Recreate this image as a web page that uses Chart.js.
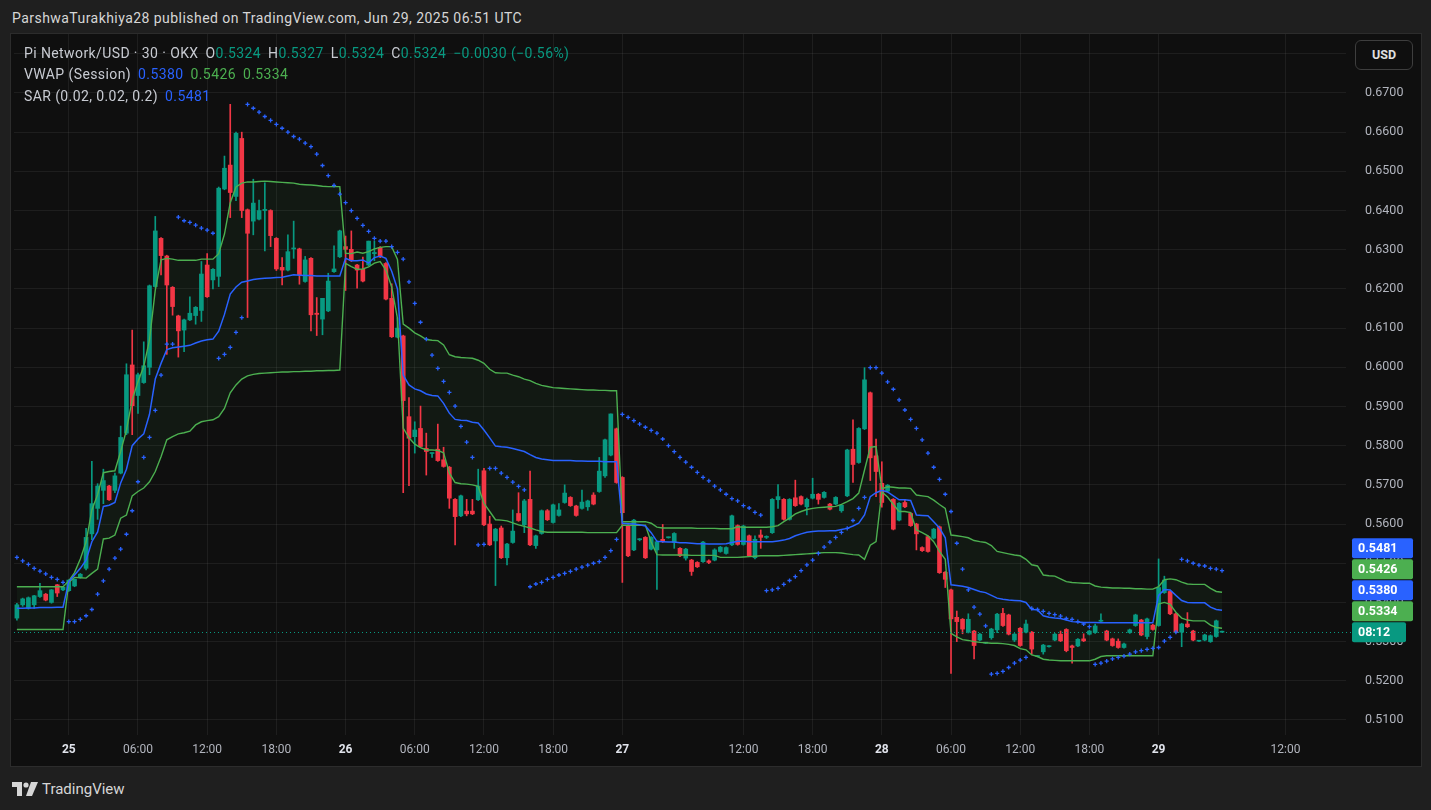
<!DOCTYPE html>
<html>
<head>
<meta charset="utf-8">
<script src="https://cdn.jsdelivr.net/npm/chart.js@4.4.1/dist/chart.umd.min.js"></script>
<style>
  html, body { margin: 0; padding: 0; background: #1f1f1f; width: 1431px; height: 810px; overflow: hidden; font-family: Roboto, "Liberation Sans", sans-serif; }
  #title { position: absolute; left: 12px; top: 10px; color: #d6d6d6; font-size: 14px; letter-spacing: 0.45px; }
  #frame { position: absolute; left: 10px; top: 33px; width: 1410px; height: 732px; border: 1px solid #2c2c2c; background: #0f0f0f; }
  #chart { position: absolute; left: 0; top: 0; }
  .legend { position: absolute; left: 13px; color: #c8cbd2; font-size: 14px; letter-spacing: 0.4px; white-space: nowrap; }
  .legend span { margin-right: 7px; }
  .legend i { font-style: normal; }
  .t { color: #089981; }
  .b { color: #2962ff; }
  .g { color: #4caf50; }
  #usd { position: absolute; left: 1344px; top: 6px; width: 56px; height: 28px; border: 1px solid #3e3e3e; border-radius: 6px; color: #e0e0e0; font-size: 12.5px; font-weight: bold; text-align: center; line-height: 28px; background: #0f0f0f; }
  #foot { position: absolute; left: 12px; top: 780px; color: #d6d6d6; font-size: 15px; display: flex; align-items: center; gap: 4px; }
</style>
</head>
<body>
<div id="title">ParshwaTurakhiya28 published on TradingView.com, Jun 29, 2025 06:51 UTC</div>
<div id="frame">
  <canvas id="chart" width="1410" height="732"></canvas>
  <div class="legend" style="top:11px"><span>Pi Network/USD · 30 · OKX</span><span>O<i class="t">0.5324</i></span><span>H<i class="t">0.5327</i></span><span>L<i class="t">0.5324</i></span><span>C<i class="t">0.5324</i></span><span class="t">−0.0030 (−0.56%)</span></div>
  <div class="legend" style="top:32px"><span>VWAP (Session)</span><span class="b">0.5380</span><span class="g">0.5426</span><span class="g">0.5334</span></div>
  <div class="legend" style="top:54px"><span>SAR (0.02, 0.02, 0.2)</span><span class="b">0.5481</span></div>
  <div id="usd">USD</div>
</div>
<div id="foot">
  <svg width="26" height="15" viewBox="0 0 26 15"><path d="M0 0H10V14H5V5H0Z" fill="#d6d6d6"/><circle cx="14" cy="3" r="2.6" fill="#d6d6d6"/><path d="M19 0H26L20 14H14Z" fill="#d6d6d6"/></svg>
  <span>TradingView</span>
</div>
<script>
// Pi Network/USD 30m candles, OKX, 24 Jun 19:30 -> 29 Jun
const open = [
  .5360,.5394,.5385,.5394,.5415,.5421,.5400,.5445,.5432,.5430,
  .5442,.5464,.5487,.5575,.5640,.5686,.5697,.5686,.5730,.5832,
  .6006,.5928,.5961,.6000,.6206,.6329,.6284,.6204,.6131,.6095,
  .6121,.6132,.6145,.6261,.6223,.6232,.6455,.6516,.6436,.6584,
  .6402,.6373,.6378,.6400,.6400,.6329,.6255,.6248,.6302,.6302,
  .6219,.6278,.6138,.6123,.6144,.6244,.6282,.6308,.6301,.6261,
  .6250,.6261,.6290,.6306,.6265,.6176,.6077,.6080,.5874,.5823,
  .5844,.5793,.5780,.5791,.5764,.5745,.5663,.5621,.5633,.5633,
  .5662,.5736,.5600,.5557,.5590,.5514,.5553,.5627,.5598,.5663,
  .5545,.5576,.5634,.5604,.5622,.5655,.5668,.5646,.5640,.5644,
  .5674,.5683,.5723,.5776,.5843,.5719,.5596,.5534,.5560,.5566,
  .5536,.5534,.5561,.5565,.5553,.5538,.5513,.5508,.5502,.5504,
  .5506,.5508,.5530,.5525,.5547,.5596,.5548,.5570,.5514,.5572,
  .5566,.5578,.5662,.5663,.5612,.5667,.5670,.5644,.5666,.5676,
  .5668,.5651,.5651,.5634,.5672,.5791,.5757,.5843,.5935,.5774,
  .5704,.5684,.5663,.5610,.5655,.5627,.5600,.5540,.5568,.5564,
  .5593,.5477,.5432,.5362,.5357,.5324,.5327,.5304,.5296,.5310,
  .5330,.5372,.5368,.5304,.5334,.5324,.5324,.5262,.5274,.5287,
  .5304,.5319,.5331,.5289,.5289,.5307,.5319,.5323,.5352,.5327,
  .5307,.5301,.5285,.5323,.5341,.5355,.5313,.5342,.5341,.5425,
  .5428,.5371,.5324,.5345,.5327,.5301,.5304,.5300,.5313,.5324
];
const high = [
  .5398,.5411,.5414,.5418,.5449,.5423,.5433,.5446,.5441,.5458,
  .5460,.5474,.5589,.5760,.5703,.5740,.5699,.5730,.5850,.6009,
  .6095,.5985,.6065,.6210,.6385,.6331,.6286,.6206,.6133,.6123,
  .6180,.6155,.6270,.6290,.6252,.6460,.6539,.6671,.6600,.6600,
  .6404,.6480,.6427,.6471,.6402,.6331,.6280,.6338,.6373,.6304,
  .6283,.6280,.6178,.6176,.6240,.6310,.6350,.6335,.6348,.6263,
  .6281,.6322,.6322,.6308,.6267,.6213,.6126,.6082,.5923,.5861,
  .5901,.5832,.5781,.5855,.5796,.5747,.5665,.5674,.5663,.5663,
  .5740,.5742,.5620,.5589,.5595,.5551,.5636,.5680,.5663,.5735,
  .5572,.5636,.5637,.5651,.5652,.5700,.5670,.5648,.5687,.5661,
  .5680,.5770,.5817,.5881,.5845,.5721,.5598,.5612,.5563,.5568,
  .5568,.5557,.5599,.5567,.5578,.5540,.5538,.5510,.5504,.5556,
  .5509,.5537,.5543,.5542,.5623,.5598,.5597,.5572,.5570,.5585,
  .5570,.5665,.5701,.5665,.5665,.5712,.5672,.5666,.5717,.5678,
  .5683,.5653,.5670,.5650,.5791,.5866,.5846,.5999,.5937,.5817,
  .5759,.5701,.5665,.5655,.5663,.5629,.5602,.5542,.5570,.5589,
  .5595,.5479,.5434,.5378,.5359,.5371,.5329,.5321,.5298,.5334,
  .5372,.5385,.5370,.5321,.5336,.5355,.5326,.5264,.5293,.5290,
  .5321,.5327,.5333,.5291,.5308,.5320,.5329,.5345,.5371,.5329,
  .5309,.5307,.5296,.5332,.5370,.5357,.5360,.5344,.5511,.5467,
  .5430,.5373,.5347,.5374,.5329,.5303,.5319,.5317,.5355,.5327
];
const low = [
  .5355,.5390,.5383,.5385,.5413,.5404,.5398,.5415,.5430,.5428,
  .5440,.5462,.5483,.5560,.5612,.5652,.5660,.5680,.5728,.5828,
  .5828,.5882,.5959,.5981,.6204,.6236,.6033,.6133,.6026,.6040,
  .6119,.6110,.6117,.6178,.6200,.6206,.6453,.6382,.6425,.6382,
  .6127,.6338,.6376,.6297,.6308,.6247,.6210,.6246,.6278,.6212,
  .6217,.6093,.6081,.6083,.6142,.6242,.6280,.6196,.6270,.6202,
  .6218,.6259,.6272,.6280,.6172,.6076,.6075,.5680,.5698,.5781,
  .5796,.5725,.5770,.5760,.5745,.5640,.5547,.5619,.5621,.5624,
  .5660,.5596,.5545,.5443,.5512,.5496,.5551,.5607,.5578,.5545,
  .5538,.5574,.5609,.5602,.5620,.5653,.5645,.5620,.5638,.5635,
  .5649,.5681,.5719,.5774,.5704,.5451,.5517,.5532,.5557,.5512,
  .5534,.5433,.5553,.5564,.5538,.5517,.5508,.5469,.5489,.5502,
  .5499,.5506,.5528,.5523,.5545,.5546,.5546,.5517,.5511,.5538,
  .5563,.5576,.5640,.5610,.5610,.5645,.5649,.5623,.5664,.5651,
  .5666,.5636,.5649,.5630,.5670,.5706,.5755,.5841,.5711,.5670,
  .5643,.5682,.5585,.5608,.5642,.5594,.5534,.5530,.5528,.5562,
  .5474,.5438,.5219,.5300,.5320,.5322,.5256,.5302,.5295,.5306,
  .5323,.5339,.5317,.5300,.5288,.5322,.5268,.5261,.5268,.5286,
  .5302,.5300,.5274,.5245,.5287,.5300,.5317,.5321,.5350,.5302,
  .5288,.5283,.5283,.5321,.5339,.5315,.5307,.5329,.5339,.5423,
  .5369,.5322,.5287,.5336,.5302,.5300,.5302,.5298,.5311,.5324
];
const close = [
  .5394,.5409,.5412,.5417,.5430,.5406,.5432,.5424,.5439,.5457,
  .5459,.5472,.5566,.5652,.5697,.5711,.5662,.5723,.5821,.5981,
  .5902,.5981,.6004,.6208,.6348,.6285,.6210,.6155,.6093,.6121,
  .6138,.6153,.6238,.6180,.6250,.6457,.6508,.6446,.6597,.6400,
  .6342,.6419,.6400,.6403,.6336,.6251,.6248,.6295,.6304,.6236,
  .6274,.6134,.6135,.6176,.6220,.6251,.6348,.6301,.6272,.6248,
  .6220,.6322,.6293,.6282,.6174,.6078,.6100,.5915,.5819,.5840,
  .5798,.5785,.5781,.5762,.5747,.5666,.5619,.5672,.5626,.5626,
  .5697,.5598,.5547,.5587,.5514,.5549,.5582,.5609,.5659,.5547,
  .5570,.5634,.5611,.5649,.5636,.5679,.5647,.5622,.5656,.5659,
  .5651,.5735,.5815,.5881,.5706,.5629,.5519,.5610,.5561,.5514,
  .5566,.5555,.5555,.5566,.5576,.5519,.5536,.5479,.5491,.5554,
  .5502,.5534,.5541,.5540,.5621,.5548,.5595,.5519,.5561,.5566,
  .5568,.5663,.5670,.5612,.5663,.5647,.5651,.5663,.5676,.5663,
  .5681,.5638,.5668,.5648,.5789,.5752,.5844,.5968,.5769,.5734,
  .5655,.5699,.5587,.5653,.5644,.5596,.5575,.5532,.5530,.5587,
  .5476,.5459,.5358,.5351,.5332,.5357,.5290,.5319,.5297,.5332,
  .5370,.5341,.5319,.5319,.5290,.5345,.5281,.5263,.5291,.5289,
  .5319,.5302,.5277,.5285,.5306,.5302,.5327,.5340,.5354,.5304,
  .5290,.5285,.5294,.5330,.5368,.5317,.5358,.5331,.5438,.5457,
  .5371,.5324,.5345,.5338,.5304,.5302,.5317,.5315,.5353,.5324
];
// VWAP (Session) and its upper / lower bands
const vwap = [
  .5385,.5385,.5386,.5386,.5387,.5387,.5387,.5388,.5388,.5453,
  .5470,.5487,.5508,.5555,.5580,.5645,.5648,.5655,.5705,.5740,
  .5800,.5817,.5830,.5880,.5970,.6010,.6045,.6050,.6052,.6054,
  .6056,.6062,.6067,.6070,.6072,.6092,.6135,.6187,.6205,.6217,
  .6220,.6224,.6226,.6227,.6228,.6229,.6230,.6233,.6236,.6235,
  .6234,.6234,.6233,.6233,.6233,.6233,.6233,.6278,.6272,.6272,
  .6274,.6266,.6280,.6284,.6278,.6245,.6200,.5980,.5955,.5945,
  .5940,.5932,.5928,.5927,.5908,.5883,.5867,.5865,.5864,.5860,
  .5858,.5840,.5820,.5799,.5797,.5796,.5793,.5789,.5785,.5777,
  .5770,.5766,.5764,.5762,.5762,.5762,.5762,.5761,.5761,.5760,
  .5760,.5760,.5759,.5759,.5759,.5602,.5601,.5600,.5598,.5595,
  .5578,.5556,.5555,.5554,.5554,.5552,.5552,.5551,.5550,.5550,
  .5549,.5549,.5549,.5550,.5553,.5556,.5556,.5555,.5555,.5555,
  .5555,.5555,.5557,.5559,.5563,.5570,.5575,.5579,.5581,.5582,
  .5582,.5583,.5583,.5586,.5589,.5595,.5602,.5623,.5670,.5680,
  .5686,.5682,.5672,.5662,.5662,.5660,.5623,.5622,.5621,.5606,
  .5590,.5565,.5445,.5443,.5441,.5438,.5433,.5428,.5425,.5418,
  .5411,.5408,.5406,.5405,.5404,.5400,.5382,.5381,.5366,.5362,
  .5360,.5359,.5355,.5351,.5350,.5349,.5349,.5349,.5348,.5348,
  .5348,.5348,.5348,.5348,.5348,.5348,.5348,.5348,.5418,.5433,
  .5432,.5418,.5405,.5400,.5399,.5399,.5399,.5388,.5382,.5380
];
const upperBand = [
  .5440,.5440,.5440,.5440,.5440,.5440,.5440,.5440,.5440,.5455,
  .5476,.5511,.5554,.5636,.5675,.5731,.5734,.5736,.5785,.5840,
  .5917,.5963,.6002,.6070,.6197,.6274,.6278,.6276,.6273,.6273,
  .6273,.6273,.6276,.6276,.6276,.6290,.6340,.6420,.6460,.6470,
  .6473,.6473,.6474,.6475,.6474,.6473,.6472,.6471,.6470,.6467,
  .6466,.6465,.6464,.6462,.6461,.6461,.6461,.6291,.6290,.6294,
  .6291,.6295,.6302,.6306,.6308,.6308,.6275,.6110,.6100,.6088,
  .6080,.6071,.6069,.6068,.6057,.6032,.6027,.6025,.6024,.6023,
  .6018,.6010,.5995,.5986,.5985,.5985,.5980,.5976,.5970,.5966,
  .5959,.5954,.5951,.5948,.5947,.5946,.5945,.5944,.5943,.5942,
  .5942,.5941,.5941,.5940,.5940,.5606,.5606,.5606,.5606,.5606,
  .5602,.5592,.5590,.5590,.5590,.5590,.5590,.5590,.5589,.5589,
  .5589,.5589,.5588,.5588,.5588,.5593,.5592,.5592,.5592,.5592,
  .5592,.5593,.5596,.5606,.5615,.5626,.5632,.5637,.5640,.5642,
  .5643,.5644,.5645,.5650,.5657,.5665,.5679,.5738,.5796,.5798,
  .5690,.5695,.5694,.5692,.5692,.5691,.5674,.5672,.5670,.5661,
  .5650,.5640,.5572,.5570,.5568,.5565,.5558,.5555,.5553,.5545,
  .5530,.5527,.5524,.5521,.5519,.5510,.5496,.5493,.5470,.5468,
  .5467,.5460,.5453,.5451,.5450,.5449,.5449,.5442,.5439,.5438,
  .5437,.5437,.5436,.5436,.5435,.5435,.5434,.5434,.5440,.5458,
  .5460,.5458,.5452,.5447,.5446,.5446,.5446,.5436,.5428,.5426
];
const lowerBand = [
  .5331,.5331,.5331,.5331,.5331,.5331,.5331,.5331,.5331,.5451,
  .5464,.5463,.5462,.5474,.5485,.5562,.5564,.5572,.5615,.5623,
  .5672,.5683,.5692,.5708,.5734,.5772,.5815,.5823,.5830,.5833,
  .5837,.5853,.5861,.5864,.5866,.5874,.5895,.5935,.5955,.5970,
  .5978,.5982,.5984,.5985,.5986,.5987,.5988,.5988,.5989,.5989,
  .5990,.5990,.5991,.5991,.5992,.5992,.5993,.6265,.6257,.6250,
  .6251,.6256,.6266,.6270,.6248,.6205,.6125,.5845,.5820,.5804,
  .5795,.5789,.5789,.5788,.5782,.5730,.5706,.5703,.5702,.5700,
  .5696,.5653,.5632,.5611,.5610,.5608,.5603,.5598,.5594,.5590,
  .5585,.5581,.5579,.5579,.5579,.5579,.5579,.5579,.5579,.5578,
  .5578,.5578,.5578,.5578,.5578,.5597,.5597,.5597,.5597,.5597,
  .5554,.5522,.5521,.5521,.5521,.5521,.5521,.5520,.5520,.5520,
  .5520,.5520,.5515,.5515,.5515,.5515,.5516,.5517,.5518,.5519,
  .5519,.5519,.5519,.5520,.5521,.5522,.5523,.5524,.5525,.5526,
  .5527,.5527,.5527,.5526,.5524,.5522,.5521,.5510,.5546,.5555,
  .5682,.5669,.5650,.5632,.5632,.5629,.5585,.5578,.5570,.5555,
  .5530,.5510,.5321,.5312,.5305,.5303,.5300,.5298,.5297,.5296,
  .5296,.5295,.5293,.5290,.5282,.5279,.5266,.5262,.5255,.5253,
  .5252,.5251,.5251,.5251,.5251,.5251,.5251,.5255,.5262,.5264,
  .5264,.5264,.5264,.5264,.5264,.5264,.5264,.5264,.5396,.5400,
  .5395,.5375,.5360,.5355,.5353,.5353,.5353,.5342,.5336,.5334
];
// Parabolic SAR (0.02, 0.02, 0.2)
const sar = [
  .5515,.5506,.5497,.5487,.5480,.5473,.5464,.5459,.5451,.5351,
  .5351,.5357,.5366,.5382,.5421,.5455,.5485,.5513,.5536,.5574,
  .5634,.5708,.5770,.5821,.5890,.5980,.6059,.6059,.6383,.6374,
  .6370,.6363,.6355,.6350,.6342,.6023,.6033,.6051,.6089,.6127,
  .6671,.6661,.6651,.6640,.6630,.6620,.6610,.6600,.6589,.6582,
  .6572,.6563,.6544,.6515,.6489,.6464,.6442,.6420,.6400,.6380,
  .6362,.6347,.6329,.6322,.6322,.6308,.6293,.6276,.6218,.6163,
  .6115,.6072,.6031,.5997,.5964,.5936,.5901,.5849,.5809,.5770,
  .5547,.5548,.5742,.5742,.5730,.5719,.5707,.5696,.5687,.5440,
  .5447,.5451,.5459,.5464,.5470,.5474,.5479,.5485,.5490,.5495,
  .5500,.5504,.5515,.5532,.5561,.5880,.5872,.5864,.5855,.5847,
  .5839,.5832,.5817,.5800,.5785,.5770,.5758,.5745,.5732,.5719,
  .5710,.5697,.5687,.5676,.5665,.5659,.5647,.5641,.5630,.5623,
  .5430,.5432,.5436,.5446,.5456,.5466,.5481,.5496,.5508,.5525,
  .5541,.5554,.5566,.5579,.5589,.5609,.5640,.5668,.5999,.5999,
  .5985,.5963,.5944,.5917,.5891,.5867,.5844,.5815,.5781,.5745,
  .5714,.5676,.5632,.5551,.5485,.5432,.5388,.5370,.5340,.5217,
  .5219,.5224,.5234,.5245,.5253,.5260,.5385,.5382,.5377,.5372,
  .5369,.5365,.5359,.5357,.5351,.5345,.5338,.5242,.5245,.5250,
  .5256,.5260,.5263,.5268,.5274,.5277,.5280,.5283,.5285,.5301,
  .5311,.5324,.5510,.5506,.5500,.5495,.5493,.5487,.5485,.5481
];
// x-axis: bar slots (incl. empty future slots) and the labelled ones
const slotCount = 231;
const tickIdx  = [9, 21, 33, 45, 57, 69, 81, 93, 105, 126, 138, 150, 162, 174, 186, 198, 220];
const tickText = ['25', '06:00', '12:00', '18:00', '26', '06:00', '12:00', '18:00', '27', '12:00', '18:00', '28', '06:00', '12:00', '18:00', '29', '12:00'];
const dayTicks = ['25', '26', '27', '28', '29'];
const yMin = 0.50617, yMax = 0.68505;
const countdown = '08:12';

const UP = '#089981', DOWN = '#f23645', BLUE = '#2962ff', GREEN = '#4caf50';
const GRID = 'rgba(242,242,242,0.065)';
const FONT = 'Roboto, "Liberation Sans", sans-serif';

const slots = Array.from({ length: slotCount }, (_, i) => i);
const candleColor = close.map((c, i) => (c >= open[i] ? UP : DOWN));
const lastPrice = close[close.length - 1];
const isDay = i => dayTicks.includes(tickText[tickIdx.indexOf(i)]);

const priceTags = {
  id: 'priceTags',
  afterDatasetsDraw(chart) {
    const { ctx, chartArea, scales } = chart;
    const y = Math.round(scales.y.getPixelForValue(lastPrice)) + 0.5;
    ctx.save();
    ctx.strokeStyle = UP;
    ctx.lineWidth = 1;
    ctx.setLineDash([1, 3]);
    ctx.beginPath();
    ctx.moveTo(chartArea.left, y);
    ctx.lineTo(chartArea.right + 6, y);
    ctx.stroke();
    ctx.restore();
  },
  afterDraw(chart) {
    const { ctx, chartArea, scales } = chart;
    const x0 = chartArea.right + 6;
    const tags = [
      { v: lastPrice, c: UP, text: countdown, w: 54 },
      { v: lowerBand[lowerBand.length - 1], c: GREEN },
      { v: vwap[vwap.length - 1], c: BLUE },
      { v: upperBand[upperBand.length - 1], c: GREEN },
      { v: sar[sar.length - 1], c: BLUE }
    ];
    let prev = Infinity;
    ctx.save();
    ctx.font = 'bold 12.5px ' + FONT;
    ctx.textBaseline = 'middle';
    tags.forEach(t => {
      let y = scales.y.getPixelForValue(t.v);
      y = Math.min(y, prev - 21);
      prev = y;
      ctx.fillStyle = t.c;
      ctx.beginPath();
      ctx.roundRect(x0, y - 10, t.w || 61, 20, 2);
      ctx.fill();
      ctx.fillStyle = '#ffffff';
      ctx.fillText(t.text || t.v.toFixed(4), x0 + 6, y + 1);
    });
    ctx.restore();
  }
};

new Chart(document.getElementById('chart'), {
  type: 'bar',
  data: {
    labels: slots,
    datasets: [
      { label: 'wick', data: low.map((l, i) => [l, high[i]]), backgroundColor: candleColor,
        barThickness: 1, grouped: false, minBarLength: 1, order: 6 },
      { label: 'body', data: open.map((o, i) => [o, close[i]]), backgroundColor: candleColor,
        barThickness: 4, grouped: false, minBarLength: 1, order: 5 },
      { type: 'line', label: 'upper', data: upperBand, borderColor: GREEN, borderWidth: 1.4,
        pointRadius: 0, tension: 0, fill: { target: 3 }, backgroundColor: 'rgba(76,175,80,0.07)', order: 3 },
      { type: 'line', label: 'lower', data: lowerBand, borderColor: GREEN, borderWidth: 1.4,
        pointRadius: 0, tension: 0, fill: false, order: 3 },
      { type: 'line', label: 'vwap', data: vwap, borderColor: BLUE, borderWidth: 1.5,
        pointRadius: 0, tension: 0, fill: false, order: 2 },
      { type: 'line', label: 'sar', data: sar, showLine: false, pointStyle: 'cross', pointRadius: 2.1,
        borderColor: BLUE, backgroundColor: BLUE, pointBorderWidth: 1.3, order: 1 }
    ]
  },
  options: {
    responsive: false,
    animation: false,
    devicePixelRatio: 1,
    layout: { autoPadding: false, padding: { left: 3, right: 0, top: 0, bottom: 0 } },
    plugins: {
      legend: { display: false },
      tooltip: { enabled: false },
      filler: { drawTime: 'beforeDatasetsDraw' }
    },
    scales: {
      x: {
        type: 'category',
        offset: true,
        border: { display: false },
        grid: {
          offset: false,
          drawTicks: false,
          color: ctx => (tickIdx.includes(ctx.index) ? GRID : 'rgba(0,0,0,0)')
        },
        ticks: {
          autoSkip: false,
          maxRotation: 0,
          minRotation: 0,
          padding: 8,
          color: ctx => (isDay(ctx.index) ? '#e0e3eb' : '#b2b5be'),
          font: ctx => ({ family: FONT, size: 12, weight: isDay(ctx.index) ? 'bold' : 'normal' }),
          callback: (v, i) => {
            const k = tickIdx.indexOf(i);
            return k >= 0 ? tickText[k] : '';
          }
        },
        afterFit: s => { s.height = 31; s.paddingLeft = 0; s.paddingRight = 0; }
      },
      y: {
        position: 'right',
        min: yMin,
        max: yMax,
        border: { display: false },
        grid: { color: GRID, drawTicks: false },
        ticks: {
          stepSize: 0.01,
          includeBounds: false,
          padding: 19,
          color: '#b2b5be',
          font: { family: FONT, size: 12.5 },
          callback: v => (v > 0.675 ? '' : v.toFixed(4))
        },
        afterFit: s => { s.width = 75; s.paddingTop = 0; s.paddingBottom = 0; }
      }
    }
  },
  plugins: [priceTags]
});
</script>
</body>
</html>
